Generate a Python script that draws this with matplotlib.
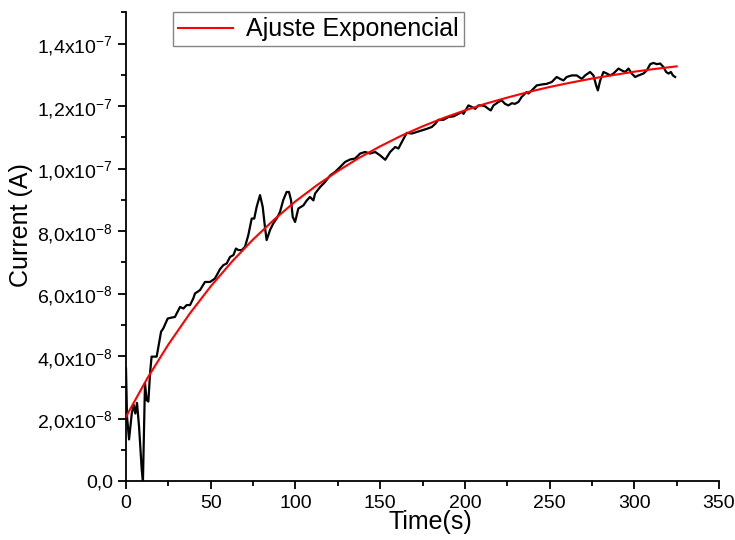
import matplotlib
matplotlib.use("Agg")
import matplotlib.pyplot as plt
from matplotlib.ticker import FixedLocator, MultipleLocator, FixedFormatter

plt.rcParams['font.family'] = ['Liberation Sans', 'DejaVu Sans']
plt.rcParams['mathtext.default'] = 'regular'

# Measured current (black), time in s, current in units of 1e-8 A
time_s = [0, 0.6, 1.8, 3.4, 4.5, 5.5, 6.5, 7.7, 9.3, 10.0, 11.2, 12.2, 13.2, 14.2, 15.1,
          18.1, 20.7, 22.0, 24.6, 26.9, 28.9, 29.9, 31.9, 33.9, 35.8, 37.8, 39.7, 40.7,
          43.7, 46.6, 49.6, 52.5, 55.5, 57.5, 59.4, 61.4, 63.4, 64.9, 66.3, 68.3, 70.2,
          72.2, 74.2, 75.7, 77.1, 79.1, 80.7, 82.0, 83.0, 85.0, 86.9, 88.9, 90.9, 92.8,
          94.8, 96.2, 97.4, 98.4, 99.8, 101.7, 104.7, 106.7, 108.6, 110.6, 111.6, 114.6,
          117.5, 120.5, 123.4, 126.4, 129.3, 132.3, 135.2, 138.2, 141.1, 144.1, 147.1,
          150.0, 153.0, 155.9, 158.9, 160.8, 162.8, 165.7, 168.7, 171.6, 174.6, 177.5,
          180.5, 182.5, 184.4, 187.4, 190.3, 193.3, 196.2, 198.2, 199.2, 202.1, 204.1,
          206.1, 208.0, 210.0, 212.0, 213.9, 215.3, 216.9, 219.8, 221.8, 223.7, 225.7,
          227.7, 229.6, 231.6, 233.5, 236.5, 237.5, 239.5, 242.4, 245.4, 248.3, 251.3,
          254.2, 256.2, 258.2, 260.1, 263.1, 266.0, 269.0, 271.0, 273.9, 275.9, 277.5,
          278.5, 279.9, 281.8, 283.8, 285.8, 287.7, 290.7, 292.6, 294.6, 296.6, 298.5,
          300.5, 302.5, 305.4, 307.4, 309.4, 311.3, 313.3, 315.3, 317.2, 318.8, 320.2,
          321.6, 322.8, 324.1]
current_e8 = [3.60, 2.06, 1.33, 2.16, 2.44, 2.16, 2.50, 1.74, 0.35, 0.0, 3.12, 2.59, 2.54, 3.45, 3.98,
              3.98, 4.78, 4.88, 5.20, 5.23, 5.25, 5.36, 5.57, 5.52, 5.63, 5.63, 5.84, 6.00,
              6.11, 6.37, 6.37, 6.48, 6.78, 6.91, 6.96, 7.17, 7.23, 7.44, 7.39, 7.39, 7.49,
              7.87, 8.40, 8.40, 8.77, 9.15, 8.77, 8.13, 7.71, 8.03, 8.24, 8.40, 8.61, 8.99,
              9.25, 9.25, 8.99, 8.45, 8.29, 8.72, 8.82, 8.98, 9.09, 8.98, 9.20, 9.41,
              9.57, 9.78, 9.89, 10.05, 10.21, 10.29, 10.32, 10.48, 10.53, 10.48, 10.53,
              10.42, 10.28, 10.53, 10.69, 10.64, 10.85, 11.14, 11.12, 11.17, 11.22, 11.27,
              11.33, 11.43, 11.56, 11.56, 11.65, 11.67, 11.75, 11.81, 11.75, 12.02, 11.97,
              11.91, 12.02, 12.02, 11.99, 11.91, 11.86, 12.02, 12.13, 12.18, 12.07, 12.02,
              12.09, 12.07, 12.13, 12.29, 12.45, 12.40, 12.50, 12.66, 12.69, 12.71, 12.77,
              12.93, 12.87, 12.82, 12.93, 12.98, 12.98, 12.87, 12.98, 13.09, 12.98, 12.66,
              12.50, 12.82, 13.09, 13.04, 12.98, 13.04, 13.20, 13.14, 13.09, 13.20, 13.04,
              12.93, 12.98, 13.04, 13.14, 13.34, 13.38, 13.34, 13.36, 13.25, 13.09, 13.04,
              13.09, 12.98, 12.93]

# Exponential fit curve (red), units of 1e-8 A
fit_time = [0, 12.5, 25, 37.5, 50, 62.5, 75, 87.5, 100, 112.5, 125, 137.5, 150, 162.5,
            175, 187.5, 200, 212.5, 225, 237.5, 250, 262.5, 275, 287.5, 300, 312.5, 325]
fit_e8 = [2.06, 3.28, 4.37, 5.35, 6.23, 7.02, 7.73, 8.37, 8.95, 9.46, 9.92, 10.34, 10.71,
          11.05, 11.35, 11.62, 11.86, 12.08, 12.27, 12.45, 12.61, 12.75, 12.88, 12.99,
          13.10, 13.19, 13.27]

y_tick_vals = [0, 2e-8, 4e-8, 6e-8, 8e-8, 1e-7, 1.2e-7, 1.4e-7]
y_tick_labels = ["0,0", "2,0x10$^{-8}$", "4,0x10$^{-8}$", "6,0x10$^{-8}$", "8,0x10$^{-8}$",
                 "1,0x10$^{-7}$", "1,2x10$^{-7}$", "1,4x10$^{-7}$"]
x_tick_vals = [0, 50, 100, 150, 200, 250, 300, 350]

fig = plt.figure(figsize=(7.35, 5.4), dpi=100)
ax = fig.add_axes([126/735, 59/540, 593/735, (481-12.3)/540])

ax.plot(time_s, [v * 1e-8 for v in current_e8], color='black', lw=1.6, zorder=2)
ax.plot(fit_time, [v * 1e-8 for v in fit_e8], color='#ff0000', lw=1.5, zorder=3,
        label='Ajuste Exponencial')

ax.set_xlim(0, 350)
ax.set_ylim(0, 1.5e-7)
ax.xaxis.set_major_locator(FixedLocator(x_tick_vals))
ax.xaxis.set_minor_locator(MultipleLocator(25))
ax.yaxis.set_major_locator(FixedLocator(y_tick_vals))
ax.yaxis.set_major_formatter(FixedFormatter(y_tick_labels))
ax.yaxis.set_minor_locator(MultipleLocator(1e-8))

for s in ['top', 'right']:
    ax.spines[s].set_visible(False)
for s in ['left', 'bottom']:
    ax.spines[s].set_linewidth(1.3)

ax.tick_params(which='major', direction='out', length=6, width=1.3, labelsize=14, colors='black')
ax.tick_params(which='minor', direction='out', length=3.5, width=1.3)
ax.tick_params(axis='x', pad=4)

ax.set_xlabel('Time(s)', fontsize=18)
ax.set_ylabel('Current (A)', fontsize=18)
ax.xaxis.set_label_coords(0.513, -0.062)
ax.yaxis.set_label_coords(-0.157, 0.546)

leg = ax.legend(loc='upper left', bbox_to_anchor=(0.08, 1.0), borderaxespad=0,
                fontsize=18, frameon=True, fancybox=False, handlelength=2.2,
                borderpad=0.2, handletextpad=0.5)
leg.get_frame().set_edgecolor('#666666')
leg.get_frame().set_linewidth(1.0)

fig.savefig('out.png', dpi=100)
